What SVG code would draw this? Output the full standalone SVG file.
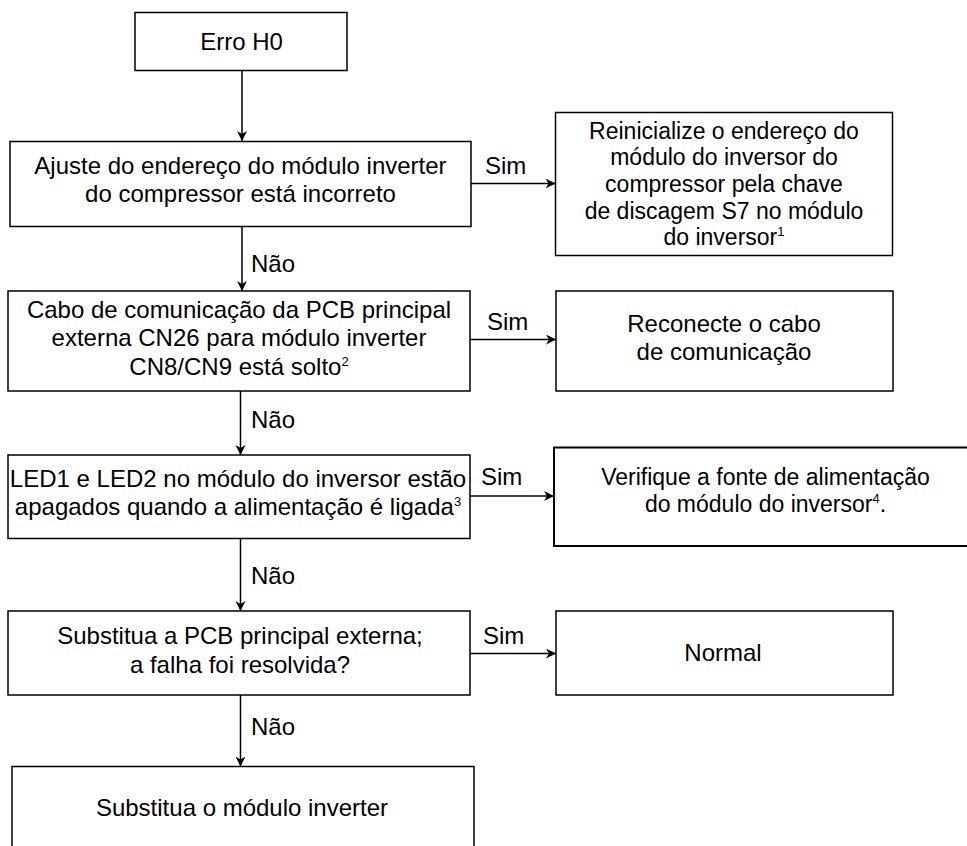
<svg xmlns="http://www.w3.org/2000/svg" width="967" height="846" viewBox="0 0 967 846">
<defs>
<style>
.box{fill:#fff;stroke:#000;stroke-width:1.5}
.t{font-family:"Liberation Sans",Arial,sans-serif;font-size:24px;fill:#000;text-anchor:middle}
.s{font-size:23px}
.l{font-family:"Liberation Sans",Arial,sans-serif;font-size:24px;fill:#000}
.sup{font-size:13px}
.c{fill:none;stroke:#000;stroke-width:1.5}
</style>
<marker id="ah" viewBox="0 0 10 10" refX="10" refY="5" markerWidth="10" markerHeight="10" markerUnits="userSpaceOnUse" orient="auto">
<path d="M0,0 L10,5 L0,10 L3,5 z" fill="#000"/>
</marker>
</defs>
<rect width="967" height="846" fill="#fff"/>

<g id="connectors">
<line class="c" x1="242" y1="70.5" x2="242" y2="141" marker-end="url(#ah)"/>
<line class="c" x1="471" y1="183.5" x2="555.5" y2="183.5" marker-end="url(#ah)"/>
<text class="l" x="485" y="173.5">Sim</text>
<line class="c" x1="242" y1="226.5" x2="242" y2="291" marker-end="url(#ah)"/>
<text class="l" x="251" y="272">Não</text>
<line class="c" x1="470" y1="339.5" x2="556" y2="339.5" marker-end="url(#ah)"/>
<text class="l" x="487" y="330">Sim</text>
<line class="c" x1="240.5" y1="391" x2="240.5" y2="455" marker-end="url(#ah)"/>
<text class="l" x="251" y="428">Não</text>
<line class="c" x1="470" y1="496" x2="554" y2="496" marker-end="url(#ah)"/>
<text class="l" x="481" y="485">Sim</text>
<line class="c" x1="240.5" y1="538.5" x2="240.5" y2="611" marker-end="url(#ah)"/>
<text class="l" x="251" y="583.5">Não</text>
<line class="c" x1="470" y1="653.5" x2="556" y2="653.5" marker-end="url(#ah)"/>
<text class="l" x="483" y="644">Sim</text>
<line class="c" x1="240.5" y1="695" x2="240.5" y2="766.5" marker-end="url(#ah)"/>
<text class="l" x="251" y="735">Não</text>
</g>

<g id="n-erro">
<rect class="box" x="135" y="12.5" width="212" height="58"/>
<text class="t" x="241.5" y="49.5">Erro H0</text>
</g>

<g id="n-ajuste">
<rect class="box" x="10" y="141.5" width="461" height="85"/>
<text class="t" x="240.5" y="173.5">Ajuste do endereço do módulo inverter<tspan x="240.5" dy="28.5">do compressor está incorreto</tspan></text>
</g>

<g id="n-reinicialize">
<rect class="box" x="555.5" y="112.5" width="337" height="143"/>
<text class="t s" x="724" y="138.5">Reinicialize o endereço do<tspan x="724" dy="26.7">módulo do inversor do</tspan><tspan x="724" dy="26.7">compressor pela chave</tspan><tspan x="724" dy="26.7">de discagem S7 no módulo</tspan><tspan x="724" dy="26.7">do inversor</tspan><tspan class="sup" dy="-9">1</tspan></text>
</g>

<g id="n-cabo">
<rect class="box" x="8" y="291" width="462" height="100"/>
<text class="t" x="239" y="317.5">Cabo de comunicação da PCB principal<tspan x="239" dy="28.5">externa CN26 para módulo inverter</tspan><tspan x="239" dy="29">CN8/CN9 está solto</tspan><tspan class="sup" dy="-9">2</tspan></text>
</g>

<g id="n-reconecte">
<rect class="box" x="556" y="291" width="337" height="100"/>
<text class="t" x="724" y="331.5">Reconecte o cabo<tspan x="724" dy="28.5">de comunicação</tspan></text>
</g>

<g id="n-led">
<rect class="box" x="8" y="455" width="462" height="83.5"/>
<text class="t" x="238" y="486.5">LED1 e LED2 no módulo do inversor estão<tspan x="238" dy="28.5">apagados quando a alimentação é ligada</tspan><tspan class="sup" dy="-9">3</tspan></text>
</g>

<g id="n-verifique">
<rect class="box" x="554" y="447.5" width="430" height="98.5" style="stroke-width:2"/>
<text class="t s" x="765.5" y="485">Verifique a fonte de alimentação<tspan x="765.5" dy="26.7">do módulo do inversor</tspan><tspan class="sup" dy="-9">4</tspan><tspan dy="9">.</tspan></text>
</g>

<g id="n-substitua-pcb">
<rect class="box" x="8" y="611" width="462" height="84"/>
<text class="t" x="240" y="643.5">Substitua a PCB principal externa;<tspan x="240" dy="29.5">a falha foi resolvida?</tspan></text>
</g>

<g id="n-normal">
<rect class="box" x="556" y="611" width="337" height="84"/>
<text class="t" x="723" y="660.5">Normal</text>
</g>

<g id="n-substitua-modulo">
<rect class="box" x="12" y="766.5" width="462" height="100"/>
<text class="t" x="242" y="816">Substitua o módulo inverter</text>
</g>
</svg>
